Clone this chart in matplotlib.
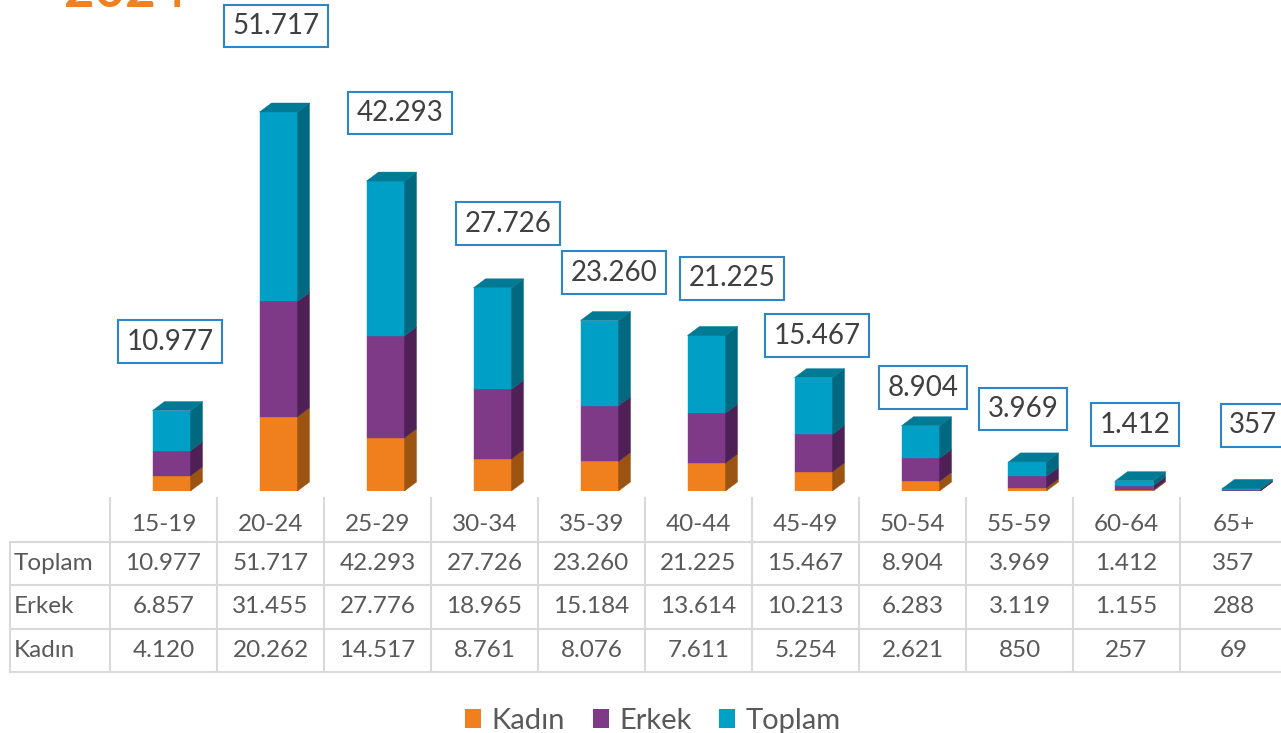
import matplotlib
matplotlib.use('Agg')
import matplotlib.pyplot as plt
from matplotlib.patches import Polygon, Patch

age_groups = ['15-19', '20-24', '25-29', '30-34', '35-39', '40-44',
              '45-49', '50-54', '55-59', '60-64', '65+']
toplam = [10977, 51717, 42293, 27726, 23260, 21225, 15467, 8904, 3969, 1412, 357]
erkek = [6857, 31455, 27776, 18965, 15184, 13614, 10213, 6283, 3119, 1155, 288]
kadin = [4120, 20262, 14517, 8761, 8076, 7611, 5254, 2621, 850, 257, 69]

# label box offsets from bar top, in pixels (excel placed them a bit loosely)
label_dx = [-1.5, -2.5, 14.5, 15.5, 14.5, 25.5, 3.5, 2.5, -4.5, 0.5, 11.5]
label_dy = [69, 86, 68, 64, 48, 57, 42, 38, 53, 56, 63]

plt.rcParams['font.family'] = ['Lato', 'DejaVu Sans']

W, H = 1281, 733
fig = plt.figure(figsize=(W / 100, H / 100), dpi=100)

col_px = 107.0
left_px = 110.0
base_px = 491.0
ymax = 134000.0

ax = fig.add_axes([left_px / W, (H - base_px) / H, (W - left_px) / W, base_px / H])
ax.set_xlim(-0.5, -0.5 + (W - left_px) / col_px)
ax.set_ylim(0, ymax)
ax.axis('off')

# 3d look: depth offset and bar width in data units
dx = 12 / col_px
dy = 9 * ymax / base_px
bw = 38 / col_px
shift = 8 / col_px

faces = {
    'Kadın': ('#F0801E', '#9C5413', '#C0661A'),
    'Erkek': ('#7E3A87', '#4E2056', '#632C6B'),
    'Toplam': ('#009FC6', '#00687F', '#007A95'),
}

series = [('Kadın', kadin), ('Erkek', erkek), ('Toplam', toplam)]

for i in range(len(age_groups)):
    x0 = i + shift - bw / 2
    x1 = x0 + bw
    bottom = 0
    for name, vals in series:
        front, side, top = faces[name]
        y0, y1 = bottom, bottom + vals[i]
        ax.add_patch(Polygon([(x0, y0), (x1, y0), (x1, y1), (x0, y1)],
                             closed=True, fc=front, ec=front, lw=0.3))
        ax.add_patch(Polygon([(x1, y0), (x1 + dx, y0 + dy), (x1 + dx, y1 + dy), (x1, y1)],
                             closed=True, fc=side, ec=side, lw=0.3))
        bottom = y1
    ax.add_patch(Polygon([(x0, bottom), (x1, bottom), (x1 + dx, bottom + dy), (x0 + dx, bottom + dy)],
                         closed=True, fc=faces['Toplam'][2], ec=faces['Toplam'][2], lw=0.3))
    lbl = f'{toplam[i]:,}'.replace(',', '.')
    ax.annotate(lbl, xy=(i + shift, bottom), xytext=(label_dx[i], label_dy[i]),
                textcoords='offset pixels', ha='center', va='center',
                fontsize=20, color='#404040', annotation_clip=False,
                bbox=dict(boxstyle='square,pad=0.3', fc='white', ec='#2C86C8', lw=1.5))

# data table under the bars
tab_top, tab_bot = 498.0, 672.0
tax = fig.add_axes([left_px / W, (H - tab_bot) / H, (W - left_px) / W, (tab_bot - tab_top) / H])
tax.set_xlim(ax.get_xlim())
tax.set_ylim(4, 0)
tax.axis('off')

grid = '#D9D9D9'
txt = '#595959'
row_left = -0.5 - (left_px - 10) / col_px
for r in range(1, 5):
    tax.plot([row_left, 20], [r, r], color=grid, lw=1.5, clip_on=False)
for k in range(len(age_groups) + 1):
    tax.plot([k - 0.5, k - 0.5], [0, 4], color=grid, lw=1.5, clip_on=False)
tax.plot([row_left, row_left], [1, 4], color=grid, lw=1.5, clip_on=False)

for i, g in enumerate(age_groups):
    tax.text(i, 0.6, g, ha='center', va='center', fontsize=17.5, color=txt)
rows = [('Toplam', toplam), ('Erkek', erkek), ('Kadın', kadin)]
for r, (name, vals) in enumerate(rows):
    yc = r + 1.5
    tax.text(row_left + 4 / col_px, yc, name, ha='left', va='center',
             fontsize=17.5, color=txt, clip_on=False)
    for i, v in enumerate(vals):
        tax.text(i, yc, f'{v:,}'.replace(',', '.'), ha='center', va='center',
                 fontsize=17.5, color=txt)

# legend
handles = [Patch(fc=faces[n][0], ec='none') for n, _ in series]
fig.legend(handles, [n for n, _ in series], loc='center',
           bbox_to_anchor=(653 / W, 1 - 721 / H), ncol=3, frameon=False,
           fontsize=21, handlelength=0.55, handleheight=0.65, handletextpad=0.35,
           columnspacing=0.95, labelcolor=txt)

# year title, mostly cut off at the top in the original
fig.text(64 / W, 1 - 7 / H, '2024', color='#F08020', fontsize=38,
         fontweight='bold', va='baseline', ha='left')

fig.savefig('out.png', dpi=100)
